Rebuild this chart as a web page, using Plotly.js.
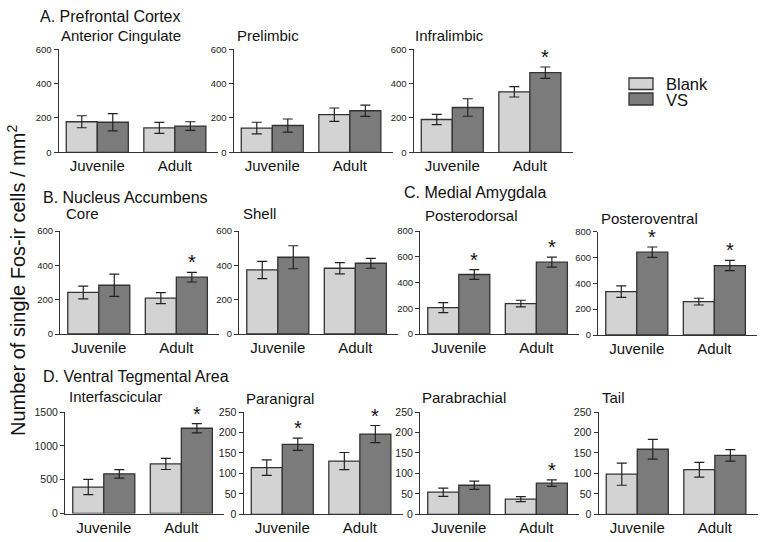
<!DOCTYPE html>
<html>
<head>
<meta charset="utf-8">
<script src="https://cdn.plot.ly/plotly-3.0.1.min.js"></script>
<style>html,body{margin:0;padding:0;background:#fff;}#chart{width:765px;height:542px;}</style>
</head>
<body>
<div id="chart"></div>
<script>
// ---------------- DATA ----------------
const ageGroups = ['Juvenile', 'Adult'];
const seriesNames = ['Blank', 'VS'];
const regions = ['Anterior Cingulate', 'Prelimbic', 'Infralimbic',
                 'Core', 'Shell', 'Posterodorsal', 'Posteroventral',
                 'Interfascicular', 'Paranigral', 'Parabrachial', 'Tail'];
const sections = ['A. Prefrontal Cortex', 'B. Nucleus Accumbens', 'C. Medial Amygdala', 'D. Ventral Tegmental Area'];

// means [Juvenile, Adult] per region
const blankMeans = [[178,142],[141,219],[191,352],[242,209],[373,383],[205,236],[335,258],[391,733],[114,130],[54,37],[98,109]];
const blankSEM   = [[35,32],[34,39],[30,30],[37,32],[50,33],[39,26],[44,26],[112,83],[19,21],[10,6],[27,18]];
const vsMeans    = [[175,153],[156,242],[261,464],[284,331],[447,412],[462,558],[640,537],[586,1260],[171,196],[71,76],[159,144]];
const vsSEM      = [[50,25],[38,33],[51,33],[65,28],[67,29],[38,39],[40,40],[63,68],[15,21],[10,8],[24,14]];
// significance star above VS bar [Juvenile, Adult]
const vsSignificant = [[0,0],[0,0],[0,1],[0,1],[0,0],[1,1],[1,1],[0,1],[1,1],[0,1],[0,0]];
// y-axis max and tick step per region
const yMax  = [600,600,600,600,600,800,800,1500,250,250,250];
const yStep = [200,200,200,200,200,200,200,500,50,50,50];

// ---------------- LAYOUT (pixels) ----------------
const W = 765, H = 542;
const panelLeft   = [58.5,233.5,413.5, 60,239,420,598, 65,243.5,420,598.5];
const panelTop    = [49.3,49.3,49.3, 231,231,231,231.5, 412,412,412,412];
const panelBottom = [152.3,152.3,152.3, 334,334,334,335, 513.5,514.3,514.3,514.3];
const panelWidth = 159;
const titleY = [35,35,35, 213,213,216,218, 396,398,397,397];
const titleX = [59,235,413, 64,241,423,599, 67,244,420,600];
const sectionPos = [[38,16],[41,197],[402,193],[41,376]];

const colors = {Blank:'#d3d3d3', VS:'#7b7b7b'};
const FONT = 'Liberation Sans, Arial, Helvetica, sans-serif';

const traces = [];
const layout = {
  width: W, height: H,
  margin: {l:0, r:0, t:0, b:0},
  paper_bgcolor: '#fff', plot_bgcolor: 'rgba(0,0,0,0)',
  showlegend: false,
  barmode: 'group', bargap: 0.2, bargroupgap: 0,
  font: {family: FONT, color: '#111'},
  annotations: [], shapes: []
};

regions.forEach((name, i) => {
  const n = i + 1;
  const xa = n === 1 ? 'x' : 'x' + n;
  const ya = n === 1 ? 'y' : 'y' + n;
  [['Blank', blankMeans[i], blankSEM[i]], ['VS', vsMeans[i], vsSEM[i]]].forEach(([s, m, e]) => {
    traces.push({
      type: 'bar', name: s, x: [0, 1], y: m, xaxis: xa, yaxis: ya,
      marker: {color: colors[s], line: {color: '#333', width: 1.3}},
      error_y: {type: 'data', array: e, visible: true, color: '#222', thickness: 1.2, width: 5},
      hoverinfo: 'skip'
    });
  });
  const L = panelLeft[i];
  layout['xaxis' + (n === 1 ? '' : n)] = {
    domain: [L / W, (L + panelWidth) / W], anchor: ya,
    range: [-0.5, 1.55], tickvals: [0, 1], ticktext: ageGroups,
    showline: true, linecolor: '#333', linewidth: 1, ticks: '',
    showgrid: false, zeroline: false, fixedrange: true,
    tickfont: {size: 15, family: FONT, color: '#111'}
  };
  layout['yaxis' + (n === 1 ? '' : n)] = {
    domain: [1 - panelBottom[i] / H, 1 - panelTop[i] / H], anchor: xa,
    range: [0, yMax[i]], dtick: yStep[i], tick0: 0,
    showline: true, linecolor: '#333', linewidth: 1,
    ticks: 'outside', ticklen: 4, tickcolor: '#333', tickwidth: 1,
    showgrid: false, zeroline: false, fixedrange: true,
    tickfont: {size: i >= 7 ? 10.5 : 9.5, family: FONT, color: '#222'}
  };
  layout.annotations.push({
    xref: 'paper', yref: 'paper', x: titleX[i] / W, y: 1 - titleY[i] / H,
    xanchor: 'left', yanchor: 'middle', showarrow: false,
    text: name, font: {size: 15, family: FONT, color: '#111'}
  });
  vsSignificant[i].forEach((sig, g) => {
    if (sig) {
      layout.annotations.push({
        xref: xa, yref: ya, x: g + 0.2, y: vsMeans[i][g] + vsSEM[i][g],
        xanchor: 'center', yanchor: 'bottom', showarrow: false, yshift: -3,
        text: '*', font: {size: 20, family: FONT, color: '#111'}
      });
    }
  });
});

sections.forEach((s, k) => {
  layout.annotations.push({
    xref: 'paper', yref: 'paper', x: sectionPos[k][0] / W, y: 1 - sectionPos[k][1] / H,
    xanchor: 'left', yanchor: 'middle', showarrow: false,
    text: s, font: {size: 16, family: FONT, color: '#111'}
  });
});

// y axis title
layout.annotations.push({
  xref: 'paper', yref: 'paper', x: 16 / W, y: 1 - 281 / H,
  xanchor: 'center', yanchor: 'middle', showarrow: false, textangle: -90,
  text: 'Number of single Fos-ir cells / mm<sup>2</sup>',
  font: {size: 20, family: FONT, color: '#111'}
});

// legend
const legendBoxes = [[629, 78, 653, 89.5], [629, 93, 653, 105]];
const legendTextY = [83.5, 100];
seriesNames.forEach((s, k) => {
  const b = legendBoxes[k];
  layout.shapes.push({
    type: 'rect', xref: 'paper', yref: 'paper',
    x0: b[0] / W, x1: b[2] / W, y0: 1 - b[3] / H, y1: 1 - b[1] / H,
    fillcolor: colors[s], line: {color: '#333', width: 1.3}
  });
  layout.annotations.push({
    xref: 'paper', yref: 'paper', x: 664 / W, y: 1 - legendTextY[k] / H,
    xanchor: 'left', yanchor: 'middle', showarrow: false, height: 13,
    text: s, font: {size: 16.5, family: FONT, color: '#111'}
  });
});

Plotly.newPlot('chart', traces, layout, {displayModeBar: false, staticPlot: true});
</script>
</body>
</html>
